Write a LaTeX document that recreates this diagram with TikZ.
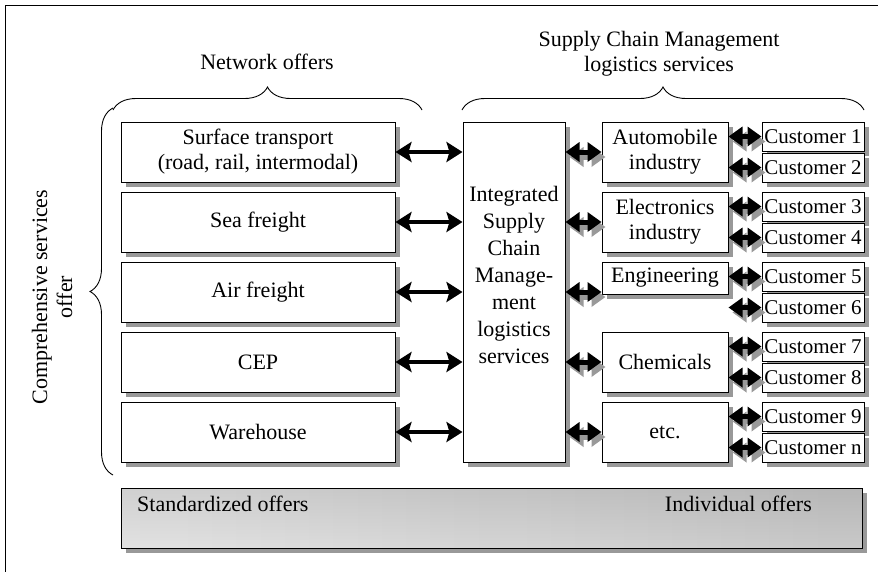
\documentclass[tikz,border=0pt]{standalone}
\usepackage{fontspec}
\setmainfont{Liberation Serif}
\usetikzlibrary{arrows.meta,decorations.pathreplacing,shadows}
\newcommand\fsz{\fontsize{22}{25}\selectfont}
\newcommand\fszc{\fontsize{22}{27}\selectfont}
\newcommand\fszk{\fontsize{21}{25}\selectfont}
\begin{document}
\begin{tikzpicture}[x=1pt,y=-1pt,
  shad/.style={drop shadow={shadow xshift=4.5pt,shadow yshift=-4.5pt,fill=black!40,opacity=1}},
  box/.style={draw,line width=1pt,fill=white,inner sep=0pt,align=center,font=\fsz,shad},
  lbox/.style={box,minimum width=274pt,minimum height=60pt},
  ibox/.style={box,minimum width=126pt},
  cbox/.style={box,minimum width=102pt,minimum height=29pt,font=\fszk},
  lbl/.style={font=\fsz,align=center,inner sep=0pt},
  bigarrow/.style={line width=3.2pt,{Stealth[length=16pt,width=20pt,inset=3pt]}-{Stealth[length=16pt,width=20pt,inset=3pt]}},
  smallarr/.style={line width=5pt,{Triangle[length=14pt,width=19pt]}-{Triangle[length=14pt,width=19pt]}},
  bracestyle/.style={line width=0.9pt,decorate,decoration={brace,amplitude=23pt}}]
\useasboundingbox (0,0) rectangle (878,571);
\draw[line width=0.8pt] (5,5) rectangle (900,600);

% labels and braces
\node[lbl] (netlbl) at (267,62) {Network offers};
\node[lbl] (scmlbl) at (659,54) {Supply Chain Management\\logistics services};
\node[lbl,rotate=90] (complbl) at (52,297) {Comprehensive services\\offer};
\coordinate (b1s) at (113,110); \coordinate (b1e) at (422,110);
\coordinate (b2s) at (462,110); \coordinate (b2e) at (864,110);
\coordinate (b3s) at (113,475); \coordinate (b3e) at (113,108);
\draw[bracestyle] (b1s) -- (b1e);
\draw[bracestyle] (b2s) -- (b2e);
\draw[bracestyle] (b3s) -- (b3e);

% left boxes
\node[lbox] (surf) at (258,152) {Surface transport\\(road, rail, intermodal)};
\node[lbox] (sea) at (258,222) {Sea freight};
\node[lbox] (air) at (258,292) {Air freight};
\node[lbox] (cep) at (258,362) {CEP};
\node[lbox] (ware) at (258,432) {Warehouse};

% center box
\node[box,minimum width=102pt,minimum height=340pt] (center) at (514,292) {};
\node[lbl,font=\fszc] (centertxt) at (514,275) {Integrated\\Supply\\Chain\\Manage-\\ment\\logistics\\services};

% industry boxes
\node[ibox,minimum height=60pt] (auto) at (665,152) {Automobile\\industry};
\node[ibox,minimum height=60pt] (elec) at (665,222) {Electronics\\industry};
\node[ibox,minimum height=32pt] (eng) at (665,278) {Engineering};
\node[ibox,minimum height=60pt] (chem) at (665,362) {Chemicals};
\node[ibox,minimum height=60pt] (etc) at (665,432) {etc.};

% customers
\node[cbox] (c1) at (813,136.5) {Customer 1};
\node[cbox] (c2) at (813,167.5) {Customer 2};
\node[cbox] (c3) at (813,206.5) {Customer 3};
\node[cbox] (c4) at (813,237.5) {Customer 4};
\node[cbox] (c5) at (813,276.5) {Customer 5};
\node[cbox] (c6) at (813,307.5) {Customer 6};
\node[cbox] (c7) at (813,346.5) {Customer 7};
\node[cbox] (c8) at (813,377.5) {Customer 8};
\node[cbox] (c9) at (813,416.5) {Customer 9};
\node[cbox] (cn) at (813,447.5) {Customer n};

% bottom bar
\node[draw,line width=1pt,inner sep=0pt,minimum width=741pt,minimum height=60pt,
  left color=black!5,right color=black!17,shad,
  path picture={\fill[top color=black,bottom color=white,fill opacity=0.07]
    (path picture bounding box.north west) rectangle (path picture bounding box.south east);}]
  (bar) at (491.5,518) {};
\node[lbl,anchor=base west] (std) at (137,511) {Standardized offers};
\node[lbl,anchor=base east] (ind) at (812,511) {Individual offers};

% big arrows
\foreach \n in {surf,sea,air,cep,ware}
  \draw[bigarrow] (\n.east) -- (center.west |- \n.east);

% small 3D arrows
\newcommand\tdarr[2]{%
  \draw[smallarr,black!40,transform canvas={shift={(4pt,-5pt)}}] #1 -- #2;
  \draw[smallarr,black] #1 -- #2;}
\coordinate (g1) at (0,152); \coordinate (g2) at (0,222); \coordinate (g3) at (0,292);
\coordinate (g4) at (0,362); \coordinate (g5) at (0,432);
\tdarr{(center.east |- g1)}{(auto.west |- g1)}
\tdarr{(center.east |- g2)}{(elec.west |- g2)}
\tdarr{(center.east |- g3)}{(eng.west |- g3)}
\tdarr{(center.east |- g4)}{(chem.west |- g4)}
\tdarr{(center.east |- g5)}{(etc.west |- g5)}
\tdarr{(auto.east |- c1)}{(c1.west)}
\tdarr{(auto.east |- c2)}{(c2.west)}
\tdarr{(elec.east |- c3)}{(c3.west)}
\tdarr{(elec.east |- c4)}{(c4.west)}
\tdarr{(eng.east |- c5)}{(c5.west)}
\tdarr{(eng.east |- c6)}{(c6.west)}
\tdarr{(chem.east |- c7)}{(c7.west)}
\tdarr{(chem.east |- c8)}{(c8.west)}
\tdarr{(etc.east |- c9)}{(c9.west)}
\tdarr{(etc.east |- cn)}{(cn.west)}
\end{tikzpicture}
\end{document}
